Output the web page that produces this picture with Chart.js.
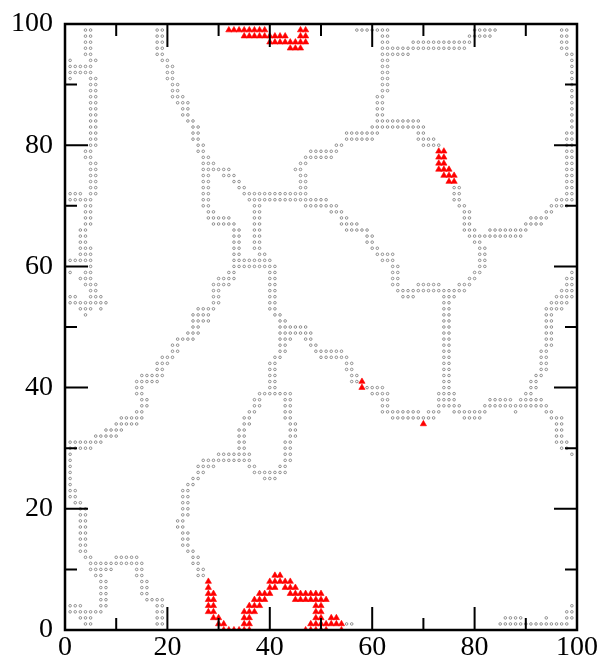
<!DOCTYPE html>
<html>
<head>
<meta charset="utf-8">
<script src="https://cdn.jsdelivr.net/npm/chart.js@4.4.0/dist/chart.umd.min.js"></script>
<style>
  html, body { margin: 0; padding: 0; background: #fff; }
  #wrap { width: 606px; height: 671px; }
</style>
</head>
<body>
<div id="wrap"><canvas id="grid"></canvas></div>
<script>
// axis ticks
const xTicks = [0, 20, 40, 60, 80, 100];
const yTicks = [0, 20, 40, 60, 80, 100];
const majorTicks = [20, 40, 60, 80];
const minorTicks = [10, 30, 50, 70, 90];

// open cells, one row per y: [y, x, x, ...]
const openRows = [
  [99, 4,5,18,19,57,58,59,60,61,62,63,80,81,82,83,84,97,98],
  [98, 4,5,18,19,62,63,79,80,81,82,83,97,98],
  [97, 4,5,18,19,62,63,68,69,70,71,72,73,74,75,76,77,78,79,97,98],
  [96, 4,5,18,19,62,63,64,65,66,67,68,69,70,71,72,73,74,75,76,77,78,97,98],
  [95, 4,5,18,19,62,63,64,65,66,67,98,99],
  [94, 1,5,6,19,20,62,63,99],
  [93, 1,2,3,4,5,20,21,62,63,99],
  [92, 1,2,3,4,5,20,21,62,63,99],
  [91, 1,5,6,20,21,62,63,99],
  [90, 5,6,21,22,62,63,99],
  [89, 5,6,21,22,62,63,99],
  [88, 5,6,21,22,23,61,62,99],
  [87, 5,6,22,23,24,61,62,99],
  [86, 5,6,23,24,61,62,99],
  [85, 5,6,23,24,61,62,99],
  [84, 5,6,24,25,61,62,63,64,65,66,67,68,69,99],
  [83, 5,6,25,26,60,61,62,63,64,65,66,67,68,69,70,99],
  [82, 5,6,25,26,55,56,57,58,59,60,61,69,70,98,99],
  [81, 5,6,25,26,55,56,57,58,59,60,69,70,71,72,98,99],
  [80, 5,6,26,27,53,54,70,71,72,73,98,99],
  [79, 4,5,26,27,48,49,50,51,52,53,98,99],
  [78, 4,5,27,28,47,48,49,50,51,52,98,99],
  [77, 5,6,27,28,29,46,47,98,99],
  [76, 5,6,27,28,29,30,31,32,45,46,98,99],
  [75, 5,6,27,28,31,32,33,46,47,98,99],
  [74, 5,6,27,28,33,34,46,47,98,99],
  [73, 5,6,27,28,34,35,46,47,76,77,98,99],
  [72, 1,2,3,5,6,27,28,35,36,37,38,39,40,41,42,43,44,45,46,47,76,77,98,99],
  [71, 1,2,3,4,5,27,28,36,37,38,39,40,41,42,43,44,45,46,47,48,49,50,51,76,77,96,97,98,99],
  [70, 4,5,27,28,37,38,47,48,49,50,51,52,53,77,78,95,96,97,98],
  [69, 4,5,28,29,37,38,52,53,54,78,79,94,95],
  [68, 4,5,28,29,30,31,32,37,38,54,55,78,79,91,92,93,94],
  [67, 4,5,29,30,31,32,33,37,38,54,55,56,57,78,79,90,91,92,93],
  [66, 3,4,33,34,37,38,55,56,57,58,59,78,79,80,83,84,85,86,87,88,89,90],
  [65, 3,4,33,34,37,38,59,60,79,80,81,82,83,84,85,86,87,88,89],
  [64, 3,4,33,34,37,38,59,60,80,81],
  [63, 3,4,5,33,34,37,38,60,61,81,82],
  [62, 3,4,5,33,34,38,39,61,62,63,64,81,82],
  [61, 1,2,3,4,5,33,34,35,36,37,38,39,40,62,63,64,81,82],
  [60, 5,33,34,35,36,37,38,39,40,41,64,65,81,82],
  [59, 1,4,5,32,33,40,41,64,65,80,81,99],
  [58, 3,4,5,30,31,32,33,40,41,64,65,79,80,98,99],
  [57, 4,5,6,29,30,31,32,40,41,64,65,69,70,71,72,73,77,78,79,98,99],
  [56, 5,6,29,30,40,41,65,66,67,68,69,70,71,72,73,74,75,76,77,78,97,98,99],
  [55, 1,2,5,6,7,29,30,40,41,66,67,68,74,75,76,96,97,98,99],
  [54, 1,2,3,4,5,6,7,8,29,30,40,41,74,75,95,96,97,98],
  [53, 3,4,5,7,26,27,28,29,40,41,74,75,94,95,96,97],
  [52, 4,25,26,27,28,41,42,74,75,94,95],
  [51, 25,26,27,28,42,43,74,75,94,95],
  [50, 25,26,42,43,44,45,46,47,74,75,94,95],
  [49, 24,25,26,42,43,44,45,46,47,48,74,75,94,95],
  [48, 22,23,24,25,42,43,44,47,48,74,75,94,95],
  [47, 21,22,42,43,48,49,74,75,94,95],
  [46, 21,22,42,43,49,50,51,52,53,54,74,75,93,94],
  [45, 19,20,21,41,42,50,51,52,53,54,55,74,75,93,94],
  [44, 18,19,20,40,41,55,56,74,75,93,94],
  [43, 18,19,40,41,55,56,74,75,93,94],
  [42, 15,16,17,18,19,40,41,56,57,74,75,92,93],
  [41, 14,15,16,17,18,40,41,56,57,74,75,91,92],
  [40, 14,15,40,41,59,60,61,62,74,75,91,92],
  [39, 14,15,38,39,40,41,42,43,44,60,61,62,63,73,74,75,76,90,91],
  [38, 15,16,37,38,43,44,62,63,73,74,75,76,83,84,85,86,87,89,90,91,92,93],
  [37, 15,16,37,38,43,44,62,63,73,74,75,76,77,82,83,84,85,86,87,88,89,90,91,92,93,94],
  [36, 14,15,36,37,43,44,62,63,64,65,66,67,68,69,71,72,73,76,77,78,79,80,81,82,88,94,95],
  [35, 11,12,13,14,15,35,36,43,44,64,65,66,67,68,69,70,71,72,78,79,80,81,95,96,97],
  [34, 10,11,12,13,14,35,36,44,45,96,97],
  [33, 8,9,10,11,34,35,44,45,96,97],
  [32, 6,7,8,9,10,34,35,44,45,96,97],
  [31, 1,2,3,4,5,6,7,34,35,43,44,96,97,98],
  [30, 1,2,3,4,5,34,35,43,44,97,98],
  [29, 1,30,31,32,33,34,35,36,43,44,99],
  [28, 1,27,28,29,30,31,32,33,34,35,36,43,44],
  [27, 1,26,27,28,29,36,37,42,43],
  [26, 1,26,27,37,38,39,40,41,42,43],
  [25, 1,25,26,39,40,41],
  [24, 1,24,25],
  [23, 1,2,23,24],
  [22, 1,2,23,24],
  [21, 2,3,23,24],
  [20, 3,4,23,24],
  [19, 3,4,23,24],
  [18, 3,4,22,23],
  [17, 3,4,22,23],
  [16, 3,4,23,24],
  [15, 3,4,23,24],
  [14, 3,4,23,24],
  [13, 3,4,24,25],
  [12, 4,5,10,11,12,13,14,25,26],
  [11, 5,6,7,8,9,10,11,12,13,14,15,25,26],
  [10, 5,6,7,8,9,14,15,26,27],
  [9, 6,7,14,15,26,27],
  [8, 7,8,15,16],
  [7, 7,8,15,16],
  [6, 7,8,15,16],
  [5, 7,8,16,17,18,19],
  [4, 1,2,3,7,8,18,19,99],
  [3, 1,2,3,4,5,6,7,18,19,98,99],
  [2, 3,4,5,18,19,86,87,88,89,94,98,99],
  [1, 4,5,18,19,55,56,85,86,87,88,89,90,91,92,93,94,95,96,97,98]
];

// hit cells (red triangles)
const hitRows = [
  [99, 32,33,34,35,36,37,38,39,46,47],
  [98, 35,36,37,38,39,40,41,42,43,46,47],
  [97, 40,41,42,43,44,45,46,47],
  [96, 44,45,46],
  [79, 73,74],
  [78, 73,74],
  [77, 73,74],
  [76, 73,74,75],
  [75, 74,75,76],
  [74, 75,76],
  [41, 58],
  [40, 58],
  [34, 70],
  [9, 41,42],
  [8, 28,40,41,42,43,44],
  [7, 28,40,41,43,44,45],
  [6, 28,29,38,39,40,44,45,46,47,48,49,50],
  [5, 28,29,37,38,39,45,46,47,48,49,50,51],
  [4, 28,29,36,37,38,49,50],
  [3, 28,29,35,36,37,49,50],
  [2, 29,30,35,36,49,50,52,53],
  [1, 30,31,35,36,48,49,50,51,52,53,54],
  [0, 31,32,33,34,35,36,47,48,49,50,51,54]
];

function toPoints(rows) {
  const pts = [];
  rows.forEach(r => {
    const y = r[0];
    r.slice(1).forEach(x => pts.push({ x: x, y: y }));
  });
  return pts;
}

// box + inward ticks on all four sides
const frame = {
  id: 'frame',
  afterDatasetsDraw(chart) {
    const { ctx, chartArea: a, scales: { x, y } } = chart;
    ctx.save();
    ctx.strokeStyle = '#000';
    ctx.lineWidth = 2;
    ctx.beginPath();
    const tick = (v, len) => {
      const px = x.getPixelForValue(v);
      const py = y.getPixelForValue(v);
      ctx.moveTo(px, a.bottom); ctx.lineTo(px, a.bottom - len);
      ctx.moveTo(px, a.top); ctx.lineTo(px, a.top + len);
      ctx.moveTo(a.left, py); ctx.lineTo(a.left + len, py);
      ctx.moveTo(a.right, py); ctx.lineTo(a.right - len, py);
    };
    majorTicks.forEach(v => tick(v, 23));
    minorTicks.forEach(v => tick(v, 12));
    ctx.stroke();
    ctx.lineWidth = 2.5;
    ctx.strokeRect(a.left, a.top, a.right - a.left, a.bottom - a.top);
    ctx.restore();
  }
};

const labelFont = { family: 'Liberation Serif', size: 28 };

new Chart(document.getElementById('grid'), {
  type: 'scatter',
  data: {
    datasets: [
      {
        data: toPoints(openRows),
        pointStyle: 'circle',
        radius: 1.3,
        borderWidth: 0.8,
        borderColor: '#777',
        backgroundColor: 'rgba(255,255,255,0)'
      },
      {
        data: toPoints(hitRows),
        pointStyle: 'triangle',
        radius: 3.6,
        borderWidth: 0.6,
        borderColor: '#ff0000',
        backgroundColor: '#ff0000'
      }
    ]
  },
  options: {
    responsive: true,
    maintainAspectRatio: false,
    animation: false,
    events: [],
    layout: { padding: { top: 24, right: 29, left: 0, bottom: 0 } },
    plugins: { legend: { display: false }, tooltip: { enabled: false } },
    scales: {
      x: {
        type: 'linear', min: 0, max: 100,
        afterBuildTicks: s => { s.ticks = xTicks.map(v => ({ value: v })); },
        grid: { display: false, drawTicks: false },
        border: { display: false },
        ticks: { color: '#000', font: labelFont, padding: 1, maxRotation: 0, autoSkip: false },
        afterFit: s => { s.height = 41; s.paddingLeft = 0; s.paddingRight = 0; }
      },
      y: {
        type: 'linear', min: 0, max: 100,
        afterBuildTicks: s => { s.ticks = yTicks.map(v => ({ value: v })); },
        grid: { display: false, drawTicks: false },
        border: { display: false },
        ticks: { color: '#000', font: labelFont, padding: 12, autoSkip: false },
        afterFit: s => { s.width = 65; s.paddingTop = 0; s.paddingBottom = 0; }
      }
    }
  },
  plugins: [frame]
});
</script>
</body>
</html>
